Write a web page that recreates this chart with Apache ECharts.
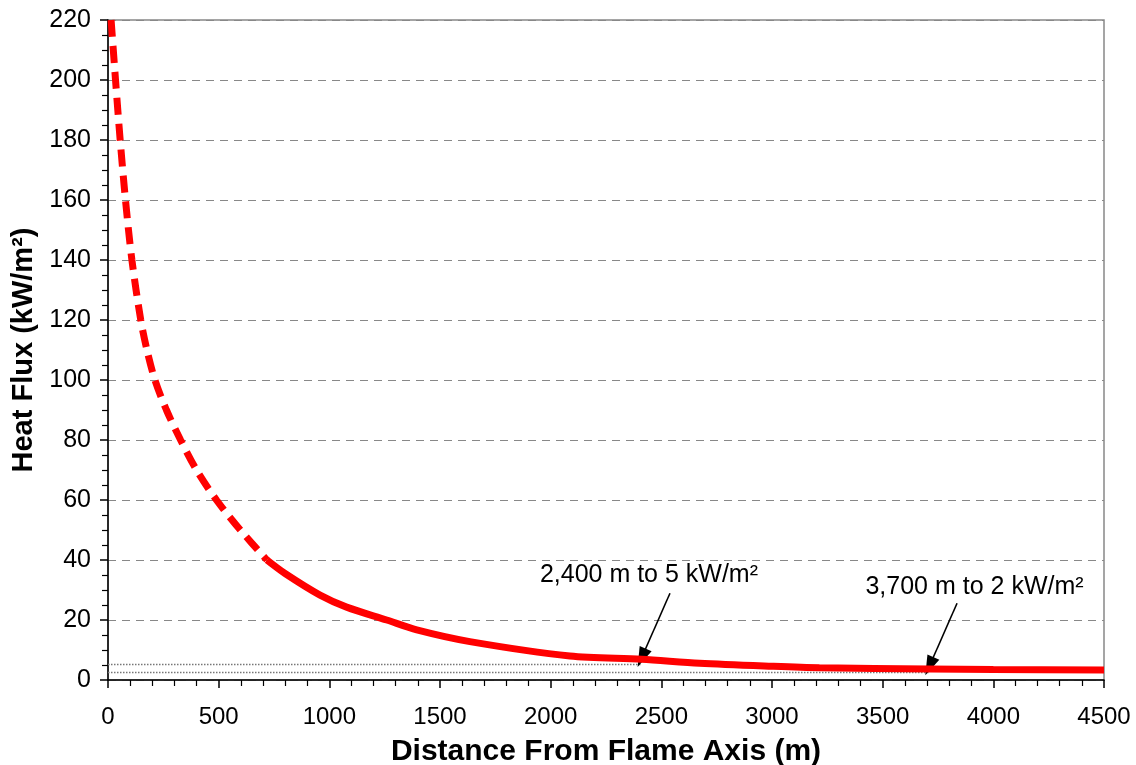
<!DOCTYPE html>
<html>
<head>
<meta charset="utf-8">
<script src="https://cdn.jsdelivr.net/npm/echarts@6/dist/echarts.min.js"></script>
<style>
  html, body { margin: 0; padding: 0; background: #fff; }
  #chart { width: 1136px; height: 765px; }
</style>
</head>
<body>
<div id="chart"></div>
<script>
// near field, drawn dashed
const dashX = [14, 34, 55, 79, 108, 148, 176, 212, 264, 328, 400, 490, 598, 718];
const dashY = [220, 200, 180, 160, 140, 120, 110, 100, 90, 80, 70, 60, 50, 40];
// far field, drawn solid
const solidX = [718, 800, 958, 1078, 1259, 1395, 1635, 2087, 2411, 2673, 3000, 3214, 3711, 4000, 4500];
const solidY = [40, 35.5, 28.3, 24.3, 20, 16.7, 12.8, 8.0, 6.9, 5.6, 4.6, 4.1, 3.7, 3.5, 3.3];

// dotted reference levels and where they stop
const refLevels = [5.3, 2.7];
const refEnds = [2411, 3711];

// callouts
const noteText = ['2,400 m to 5 kW/m²', '3,700 m to 2 kW/m²'];
const notePos = [[2444, 35], [3915, 31]];
const arrowFrom = [[2539, 28.9], [3836, 25.6]];
const arrowTo = [[2411, 7.4], [3711, 4.6]];

const FONT = '"Liberation Sans", Arial, sans-serif';

const zip = (xs, ys) => xs.map((x, i) => [x, ys[i]]);

const chart = echarts.init(document.getElementById('chart'));

chart.setOption({
  animation: false,
  backgroundColor: '#fff',
  textStyle: {fontFamily: FONT},
  grid: {
    left: 108, right: 32, top: 20, bottom: 85,
    outerBoundsMode: 'none',
    containLabel: false,
    show: true, borderColor: '#888', borderWidth: 1.5
  },
  xAxis: {
    type: 'value',
    min: 0, max: 4500, interval: 500,
    name: 'Distance From Flame Axis (m)',
    nameLocation: 'middle',
    nameGap: 57,
    nameTextStyle: {fontSize: 30, fontWeight: 'bold', color: '#000', fontFamily: FONT},
    axisLine: {show: true, onZero: false, lineStyle: {color: '#000', width: 1.5}},
    axisTick: {show: true, length: 8, lineStyle: {color: '#000', width: 1.5}},
    minorTick: {show: true, splitNumber: 5, length: 6, lineStyle: {color: '#000', width: 1.2}},
    axisLabel: {fontSize: 24, color: '#000', margin: 25, fontFamily: FONT, formatter: v => String(v)},
    splitLine: {show: false}
  },
  yAxis: {
    type: 'value',
    min: 0, max: 220, interval: 20,
    name: 'Heat Flux (kW/m²)',
    nameLocation: 'middle',
    nameGap: 64,
    nameTextStyle: {fontSize: 29, fontWeight: 'bold', color: '#000', fontFamily: FONT},
    axisLine: {show: true, onZero: false, lineStyle: {color: '#000', width: 1.5}},
    axisTick: {show: true, length: 8, lineStyle: {color: '#000', width: 1.5}},
    minorTick: {show: true, splitNumber: 4, length: 6, lineStyle: {color: '#000', width: 1.2}},
    axisLabel: {fontSize: 25, color: '#000', margin: 17, fontFamily: FONT, formatter: v => String(v)},
    splitLine: {show: true, lineStyle: {color: '#888', width: 1, type: [8, 6]}}
  },
  series: [
    {
      name: 'near',
      type: 'line',
      data: zip(dashX, dashY),
      showSymbol: false,
      smooth: 0.3,
      clip: true,
      lineStyle: {color: '#ff0000', width: 7, type: [17, 9]},
      z: 5
    },
    {
      name: 'far',
      type: 'line',
      data: zip(solidX, solidY),
      showSymbol: false,
      smooth: 0.3,
      clip: true,
      lineStyle: {color: '#ff0000', width: 7},
      z: 5,
      markLine: {
        silent: true,
        symbol: ['none', 'none'],
        label: {show: false},
        lineStyle: {color: '#777', width: 1.4, type: [1.5, 1.5]},
        data: refLevels.map((lv, i) => [{coord: [0, lv]}, {coord: [refEnds[i], lv]}])
      }
    },
    {
      name: 'callouts',
      type: 'line',
      data: [],
      z: 6,
      markLine: {
        silent: true,
        symbol: ['none', 'triangle'],
        symbolSize: [13, 20],
        label: {show: false},
        lineStyle: {color: '#000', width: 1.6, type: 'solid'},
        data: arrowFrom.map((p, i) => [{coord: p}, {coord: arrowTo[i]}])
      },
      markPoint: {
        silent: true,
        symbol: 'rect',
        symbolSize: 1,
        itemStyle: {color: 'rgba(0,0,0,0)'},
        label: {
          show: true,
          position: 'inside',
          color: '#000',
          fontSize: 25,
          fontFamily: FONT
        },
        data: notePos.map((p, i) => ({coord: p, value: noteText[i], label: {formatter: noteText[i]}}))
      }
    }
  ]
});
</script>
</body>
</html>
